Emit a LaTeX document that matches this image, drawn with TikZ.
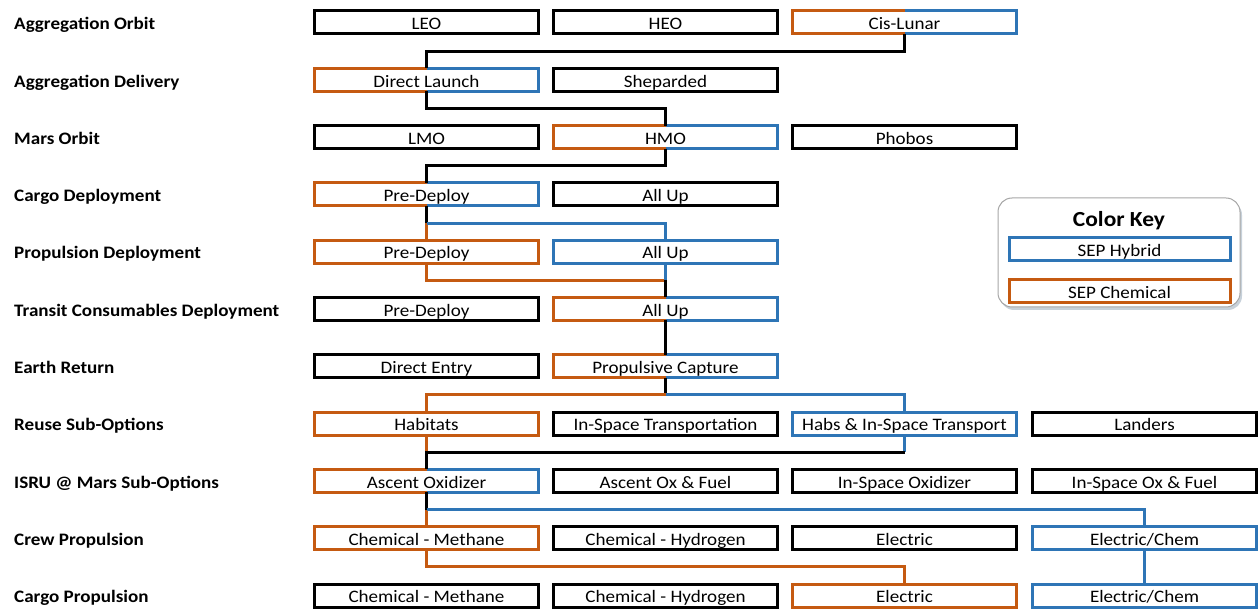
\documentclass[tikz,border=0pt]{standalone}
\usepackage{fontspec}
\setmainfont{Carlito}[FakeStretch=1.09]
\usetikzlibrary{calc,shadows}
\definecolor{sepchem}{RGB}{197,90,17}
\definecolor{sephyb}{RGB}{46,117,182}

\begin{document}
\begin{tikzpicture}[x=1pt,y=-1pt]
  \tikzset{
    opt/.style = {rectangle, minimum width=224pt, minimum height=23pt,
      inner sep=0pt, outer sep=0pt, text height=14.5pt, text depth=0pt,
      font=\fontsize{17.5}{21}\selectfont},
    plain/.style = {opt, draw=black, line width=3pt},
    chem/.style = {opt, draw=sepchem, line width=3pt},
    hyb/.style = {opt, draw=sephyb, line width=3pt},
    split/.style = {opt},
    cat/.style = {anchor=west, inner sep=0pt, text height=14.5pt, text depth=0pt,
      font=\fontsize{17.5}{21}\selectfont\bfseries},
    link/.style = {line width=3pt, black},
    chemlink/.style = {link, sepchem},
    hyblink/.style = {link, sephyb}
  }
  \useasboundingbox (0,0) rectangle (1259,609);

  % row titles
  \foreach \txt [count=\i from 0] in {Aggregation Orbit, Aggregation Delivery,
      Mars Orbit, Cargo Deployment, Propulsion Deployment,
      Transit Consumables Deployment, Earth Return, Reuse Sub-Options,
      ISRU @ Mars Sub-Options, Crew Propulsion, Cargo Propulsion}
    \node[cat] at (14, 22.5+57.3*\i) {\txt};

  % options
  \node[plain] (leo)  at (426.5,22.5) {LEO};
  \node[plain] (heo)  at (665.5,22.5) {HEO};
  \node[split] (cis)  at (904.5,22.5) {Cis-Lunar};

  \node[split] (dl)   at (426.5,79.8) {Direct Launch};
  \node[plain] (shep) at (665.5,79.8) {Sheparded};

  \node[plain] (lmo)  at (426.5,137.1) {LMO};
  \node[split] (hmo)  at (665.5,137.1) {HMO};
  \node[plain] (phob) at (904.5,137.1) {Phobos};

  \node[split] (cpre) at (426.5,194.4) {Pre-Deploy};
  \node[plain] (call) at (665.5,194.4) {All Up};

  \node[chem]  (ppre) at (426.5,251.7) {Pre-Deploy};
  \node[hyb]   (pall) at (665.5,251.7) {All Up};

  \node[plain] (tpre) at (426.5,309) {Pre-Deploy};
  \node[split] (tall) at (665.5,309) {All Up};

  \node[plain] (de)   at (426.5,366.3) {Direct Entry};
  \node[split] (pc)   at (665.5,366.3) {Propulsive Capture};

  \node[chem]  (hab)  at (426.5,423.6) {Habitats};
  \node[plain] (ist)  at (665.5,423.6) {In-Space Transportation};
  \node[hyb]   (hist) at (904.5,423.6) {Habs \& In-Space Transport};
  \node[plain] (land) at (1144.5,423.6) {Landers};

  \node[split] (aox)  at (426.5,480.9) {Ascent Oxidizer};
  \node[plain] (aof)  at (665.5,480.9) {Ascent Ox \& Fuel};
  \node[plain] (iso)  at (904.5,480.9) {In-Space Oxidizer};
  \node[plain] (isof) at (1144.5,480.9) {In-Space Ox \& Fuel};

  \node[chem]  (crm)  at (426.5,538.2) {Chemical - Methane};
  \node[plain] (crh)  at (665.5,538.2) {Chemical - Hydrogen};
  \node[plain] (cre)  at (904.5,538.2) {Electric};
  \node[hyb]   (crec) at (1144.5,538.2) {Electric/Chem};

  \node[plain] (cgm)  at (426.5,595.5) {Chemical - Methane};
  \node[plain] (cgh)  at (665.5,595.5) {Chemical - Hydrogen};
  \node[chem]  (cge)  at (904.5,595.5) {Electric};
  \node[hyb]   (cgec) at (1144.5,595.5) {Electric/Chem};

  % half chemical / half hybrid borders
  \foreach \n in {cis,dl,hmo,cpre,tall,pc,aox} {
    \draw[chemlink] (\n.north) -| (\n.west) |- (\n.south);
    \draw[hyblink] (\n.north) -| (\n.east) |- (\n.south);
  }

  % paths
  \draw[link] (cis.south) |- ($(cis.south)!.5!(dl.north)$) -| (dl.north);
  \draw[link] (dl.south) |- ($(dl.south)!.5!(hmo.north)$) -| (hmo.north);
  \draw[link] (hmo.south) |- ($(hmo.south)!.5!(cpre.north)$) -| (cpre.north);

  \coordinate (j3) at ($(cpre.south)!.5!(ppre.north)$);
  \draw[link] (cpre.south) -- (j3);
  \draw[chemlink] (j3) -- (ppre.north);
  \draw[hyblink] (j3) -| (pall.north);

  \coordinate (j4) at ($(pall.south)!.5!(tall.north)$);
  \draw[chemlink] (ppre.south) |- (j4);
  \draw[hyblink] (pall.south) -- (j4);
  \draw[link] (j4) -- (tall.north);

  \draw[link] (tall.south) -- (pc.north);

  \coordinate (j6) at ($(pc.south)!.5!(pc.south |- hist.north)$);
  \draw[link] (pc.south) -- (j6);
  \draw[chemlink] (j6) -| (hab.north);
  \draw[hyblink] (j6) -| (hist.north);

  \coordinate (j7) at ($(hab.south)!.5!(aox.north)$);
  \draw[chemlink] (hab.south) -- (j7);
  \draw[hyblink] (hist.south) -- (hist.south |- j7);
  \draw[link] (hist.south |- j7) -- (j7) -- (aox.north);

  \coordinate (j8) at ($(aox.south)!.5!(crm.north)$);
  \draw[link] (aox.south) -- (j8);
  \draw[chemlink] (j8) -- (crm.north);
  \draw[hyblink] (j8) -| (crec.north);

  \draw[chemlink] (crm.south) |- ($(crm.south)!.5!(cge.north)$) -| (cge.north);
  \draw[hyblink] (crec.south) -- (cgec.north);

  % colour key
  \node[draw=gray!70, line width=1pt, rounded corners=14pt, fill=white,
    minimum width=242pt, minimum height=109pt,
    drop shadow={opacity=.35, fill=sephyb!40!gray, shadow xshift=2pt, shadow yshift=-3pt}]
    (key) at (1119,252.5) {};
  \node[anchor=base, font=\fontsize{21.5}{26}\selectfont\bfseries] (keyttl)
    at (1119,227) {Color Key};
  \node[hyb, minimum width=221pt] (khyb) at (1119.5,249.5) {SEP Hybrid};
  \node[chem, minimum width=221pt] (kchem) at (1119.5,291) {SEP Chemical};
\end{tikzpicture}
\end{document}
